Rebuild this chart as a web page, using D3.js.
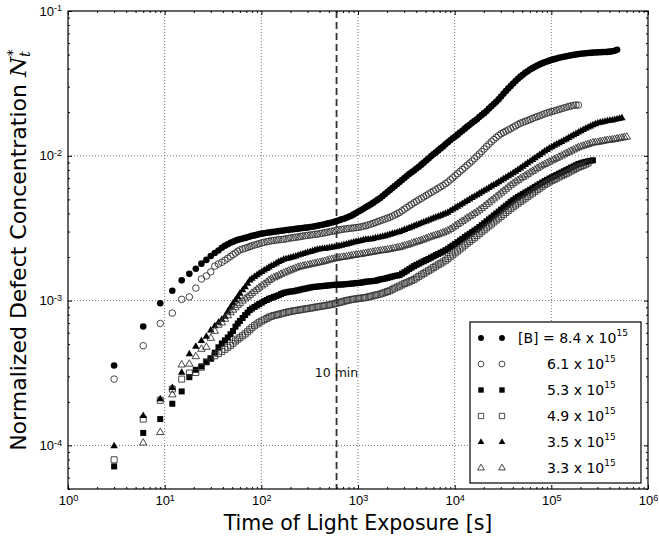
<!DOCTYPE html>
<html>
<head>
<meta charset="utf-8">
<script src="https://cdn.jsdelivr.net/npm/d3@7"></script>
<style>
  body { margin: 0; background: #fff; }
  svg { display: block; font-family: "DejaVu Sans", sans-serif; }
</style>
</head>
<body>
<svg id="chart" width="659" height="541"></svg>
<script>
// Exposure times [s] shared by all samples (a series may stop earlier)
const sampleTimes = [
  3, 6, 9, 12, 15, 18, 21, 24, 27, 30, 33, 36, 39, 42, 45, 48, 51, 54, 57, 60, 64,
  68, 72, 76, 80, 85, 90, 95, 101, 107, 114,
  120, 127, 135, 143, 151, 160, 170, 180, 191, 202,
  214, 227, 240, 254, 269, 285, 302, 320, 339, 359,
  380, 403, 427, 452, 479, 507, 537, 569, 603, 638,
  676, 716, 759, 804, 851, 902, 955, 1012, 1072, 1135,
  1202, 1274, 1349, 1429, 1514, 1603, 1698, 1799, 1905, 2018,
  2138, 2265, 2399, 2541, 2692, 2851, 3020, 3199, 3388, 3589,
  3802, 4027, 4266, 4519, 4786, 5070, 5370, 5689, 6026, 6383,
  6761, 7161, 7586, 8035, 8511, 9016, 9550, 10120, 10720, 11350,
  12020, 12740, 13490, 14290, 15140, 16030, 16980, 17990, 19050, 20180,
  21380, 22650, 23990, 25410, 26920, 28510, 30200, 31990, 33880, 35890,
  38020, 40270, 42660, 45190, 47860, 50700, 53700, 56890, 60260, 63830,
  67610, 71610, 75860, 80350, 85110, 90160, 95500, 101200, 107200, 113500,
  120200, 127400, 134900, 142900, 151400, 160300, 169800, 179900, 190500, 201800,
  213800, 226500, 239900, 254100, 269200, 285100, 302000, 319900, 338800, 358900,
  380200, 402700, 426600, 451900, 478600, 507000, 537000, 568900, 602600
];

// Normalized defect concentration N_t* for each boron concentration
const boron84 = [
  3.56e-4, 6.62e-4, 9.6e-4, 1.17e-3, 1.38e-3, 1.53e-3, 1.66e-3, 1.80e-3, 1.91e-3, 2.03e-3,
  2.13e-3, 2.22e-3, 2.32e-3, 2.39e-3, 2.45e-3, 2.51e-3, 2.55e-3, 2.59e-3, 2.63e-3, 2.65e-3, 2.68e-3,
  2.71e-3, 2.74e-3, 2.77e-3, 2.80e-3, 2.82e-3, 2.85e-3, 2.88e-3, 2.90e-3, 2.92e-3, 2.94e-3,
  2.95e-3, 2.97e-3, 2.99e-3, 3.00e-3, 3.02e-3, 3.04e-3, 3.05e-3, 3.07e-3, 3.08e-3, 3.10e-3,
  3.11e-3, 3.13e-3, 3.14e-3, 3.16e-3, 3.17e-3, 3.19e-3, 3.20e-3, 3.22e-3, 3.24e-3, 3.26e-3,
  3.29e-3, 3.31e-3, 3.34e-3, 3.37e-3, 3.40e-3, 3.43e-3, 3.46e-3, 3.50e-3, 3.55e-3, 3.59e-3,
  3.64e-3, 3.68e-3, 3.73e-3, 3.79e-3, 3.85e-3, 3.94e-3, 4.03e-3, 4.12e-3, 4.21e-3, 4.31e-3,
  4.41e-3, 4.51e-3, 4.61e-3, 4.73e-3, 4.85e-3, 4.98e-3, 5.11e-3, 5.28e-3, 5.45e-3, 5.63e-3,
  5.81e-3, 5.99e-3, 6.18e-3, 6.38e-3, 6.59e-3, 6.80e-3, 7.02e-3, 7.25e-3, 7.48e-3, 7.69e-3,
  7.91e-3, 8.16e-3, 8.41e-3, 8.69e-3, 8.97e-3, 9.28e-3, 9.59e-3, 9.91e-3, 1.023e-2, 1.056e-2,
  1.09e-2, 1.125e-2, 1.16e-2, 1.20e-2, 1.24e-2, 1.28e-2, 1.32e-2, 1.36e-2, 1.40e-2, 1.45e-2,
  1.49e-2, 1.54e-2, 1.59e-2, 1.64e-2, 1.69e-2, 1.74e-2, 1.79e-2, 1.85e-2, 1.91e-2, 1.97e-2,
  2.04e-2, 2.12e-2, 2.20e-2, 2.28e-2, 2.36e-2, 2.46e-2, 2.57e-2, 2.68e-2, 2.80e-2, 2.92e-2,
  3.04e-2, 3.16e-2, 3.28e-2, 3.40e-2, 3.52e-2, 3.63e-2, 3.74e-2, 3.84e-2, 3.94e-2, 4.03e-2,
  4.12e-2, 4.20e-2, 4.28e-2, 4.35e-2, 4.42e-2, 4.48e-2, 4.54e-2, 4.60e-2, 4.65e-2, 4.70e-2,
  4.75e-2, 4.79e-2, 4.83e-2, 4.87e-2, 4.91e-2, 4.95e-2, 4.98e-2, 5.01e-2, 5.04e-2, 5.07e-2,
  5.09e-2, 5.11e-2, 5.13e-2, 5.14e-2, 5.16e-2, 5.17e-2, 5.18e-2, 5.19e-2, 5.20e-2, 5.21e-2,
  5.22e-2, 5.24e-2, 5.27e-2, 5.32e-2, 5.40e-2
];
const boron61 = [
  2.87e-4, 4.88e-4, 6.95e-4, 8.2e-4, 1.02e-3, 1.06e-3, 1.22e-3, 1.41e-3, 1.48e-3, 1.58e-3,
  1.73e-3, 1.79e-3, 1.84e-3, 1.90e-3, 1.96e-3, 2.02e-3, 2.08e-3, 2.13e-3, 2.19e-3, 2.24e-3, 2.27e-3,
  2.30e-3, 2.33e-3, 2.36e-3, 2.39e-3, 2.42e-3, 2.45e-3, 2.47e-3, 2.50e-3, 2.53e-3, 2.55e-3,
  2.57e-3, 2.59e-3, 2.60e-3, 2.62e-3, 2.63e-3, 2.64e-3, 2.65e-3, 2.67e-3, 2.69e-3, 2.71e-3,
  2.72e-3, 2.74e-3, 2.75e-3, 2.77e-3, 2.79e-3, 2.81e-3, 2.82e-3, 2.84e-3, 2.85e-3, 2.87e-3,
  2.88e-3, 2.90e-3, 2.92e-3, 2.94e-3, 2.96e-3, 2.99e-3, 3.01e-3, 3.03e-3, 3.05e-3, 3.08e-3,
  3.10e-3, 3.12e-3, 3.13e-3, 3.15e-3, 3.16e-3, 3.18e-3, 3.19e-3, 3.21e-3, 3.23e-3, 3.26e-3,
  3.29e-3, 3.33e-3, 3.37e-3, 3.41e-3, 3.46e-3, 3.51e-3, 3.56e-3, 3.61e-3, 3.66e-3, 3.71e-3,
  3.76e-3, 3.83e-3, 3.91e-3, 3.98e-3, 4.06e-3, 4.17e-3, 4.28e-3, 4.39e-3, 4.51e-3, 4.62e-3,
  4.74e-3, 4.85e-3, 4.97e-3, 5.08e-3, 5.20e-3, 5.32e-3, 5.45e-3, 5.57e-3, 5.70e-3, 5.83e-3,
  5.97e-3, 6.11e-3, 6.25e-3, 6.42e-3, 6.59e-3, 6.82e-3, 7.05e-3, 7.29e-3, 7.53e-3, 7.79e-3,
  8.05e-3, 8.33e-3, 8.61e-3, 8.90e-3, 9.20e-3, 9.56e-3, 9.93e-3, 1.03e-2, 1.07e-2, 1.115e-2,
  1.16e-2, 1.205e-2, 1.25e-2, 1.295e-2, 1.34e-2, 1.38e-2, 1.42e-2, 1.45e-2, 1.48e-2, 1.51e-2,
  1.54e-2, 1.575e-2, 1.61e-2, 1.645e-2, 1.68e-2, 1.705e-2, 1.73e-2, 1.755e-2, 1.78e-2, 1.81e-2,
  1.84e-2, 1.865e-2, 1.89e-2, 1.92e-2, 1.95e-2, 1.975e-2, 2.00e-2, 2.02e-2, 2.04e-2, 2.065e-2,
  2.09e-2, 2.115e-2, 2.14e-2, 2.165e-2, 2.19e-2, 2.21e-2, 2.23e-2, 2.24e-2, 2.24e-2
];
const boron53 = [
  7.16e-5, 1.22e-4, 1.52e-4, 1.94e-4, 2.36e-4, 2.96e-4, 3.33e-4, 3.51e-4, 3.76e-4, 3.98e-4,
  4.37e-4, 4.76e-4, 5.06e-4, 5.31e-4, 5.56e-4, 5.86e-4, 6.17e-4, 6.61e-4, 6.95e-4, 7.24e-4, 7.58e-4,
  7.94e-4, 8.27e-4, 8.61e-4, 8.82e-4, 9.04e-4, 9.25e-4, 9.46e-4, 9.68e-4, 9.91e-4, 1.01e-3,
  1.03e-3, 1.045e-3, 1.06e-3, 1.075e-3, 1.09e-3, 1.11e-3, 1.13e-3, 1.14e-3, 1.15e-3, 1.155e-3,
  1.16e-3, 1.17e-3, 1.18e-3, 1.19e-3, 1.20e-3, 1.21e-3, 1.22e-3, 1.23e-3, 1.24e-3, 1.245e-3,
  1.25e-3, 1.255e-3, 1.26e-3, 1.265e-3, 1.27e-3, 1.275e-3, 1.28e-3, 1.285e-3, 1.29e-3, 1.29e-3,
  1.29e-3, 1.295e-3, 1.30e-3, 1.305e-3, 1.31e-3, 1.315e-3, 1.32e-3, 1.325e-3, 1.33e-3, 1.34e-3,
  1.35e-3, 1.355e-3, 1.36e-3, 1.365e-3, 1.37e-3, 1.385e-3, 1.40e-3, 1.41e-3, 1.42e-3, 1.435e-3,
  1.45e-3, 1.465e-3, 1.48e-3, 1.49e-3, 1.50e-3, 1.535e-3, 1.57e-3, 1.61e-3, 1.65e-3, 1.69e-3,
  1.73e-3, 1.765e-3, 1.80e-3, 1.835e-3, 1.87e-3, 1.905e-3, 1.94e-3, 1.98e-3, 2.02e-3, 2.06e-3,
  2.10e-3, 2.14e-3, 2.18e-3, 2.23e-3, 2.28e-3, 2.34e-3, 2.40e-3, 2.465e-3, 2.53e-3, 2.60e-3,
  2.67e-3, 2.745e-3, 2.82e-3, 2.895e-3, 2.97e-3, 3.05e-3, 3.13e-3, 3.22e-3, 3.32e-3, 3.42e-3,
  3.53e-3, 3.64e-3, 3.75e-3, 3.87e-3, 3.99e-3, 4.12e-3, 4.25e-3, 4.38e-3, 4.52e-3, 4.66e-3,
  4.81e-3, 4.94e-3, 5.08e-3, 5.20e-3, 5.32e-3, 5.44e-3, 5.57e-3, 5.69e-3, 5.82e-3, 5.96e-3,
  6.10e-3, 6.24e-3, 6.38e-3, 6.53e-3, 6.68e-3, 6.82e-3, 6.97e-3, 7.10e-3, 7.24e-3, 7.38e-3,
  7.53e-3, 7.67e-3, 7.82e-3, 7.97e-3, 8.13e-3, 8.29e-3, 8.45e-3, 8.61e-3, 8.77e-3, 8.88e-3,
  8.99e-3, 9.08e-3, 9.16e-3, 9.24e-3, 9.31e-3
];
const boron49 = [
  7.96e-5, 1.52e-4, 2.05e-4, 2.45e-4, 2.87e-4, 3.16e-4, 3.19e-4, 3.47e-4, 3.78e-4, 3.98e-4,
  4.16e-4, 4.31e-4, 4.46e-4, 4.61e-4, 4.76e-4, 4.91e-4, 5.08e-4, 5.26e-4, 5.42e-4, 5.55e-4, 5.72e-4,
  5.89e-4, 6.09e-4, 6.30e-4, 6.50e-4, 6.71e-4, 6.89e-4, 7.08e-4, 7.23e-4, 7.38e-4, 7.53e-4,
  7.69e-4, 7.79e-4, 7.89e-4, 7.96e-4, 8.04e-4, 8.12e-4, 8.20e-4, 8.28e-4, 8.36e-4, 8.42e-4,
  8.49e-4, 8.54e-4, 8.59e-4, 8.65e-4, 8.71e-4, 8.76e-4, 8.81e-4, 8.87e-4, 8.93e-4, 8.99e-4,
  9.06e-4, 9.11e-4, 9.17e-4, 9.23e-4, 9.29e-4, 9.35e-4, 9.42e-4, 9.51e-4, 9.61e-4, 9.70e-4,
  9.79e-4, 9.90e-4, 1.00e-3, 1.008e-3, 1.016e-3, 1.023e-3, 1.03e-3, 1.035e-3, 1.04e-3, 1.045e-3,
  1.05e-3, 1.06e-3, 1.07e-3, 1.08e-3, 1.09e-3, 1.10e-3, 1.11e-3, 1.125e-3, 1.14e-3, 1.155e-3,
  1.17e-3, 1.195e-3, 1.22e-3, 1.24e-3, 1.26e-3, 1.285e-3, 1.31e-3, 1.33e-3, 1.35e-3, 1.375e-3,
  1.40e-3, 1.435e-3, 1.47e-3, 1.505e-3, 1.54e-3, 1.575e-3, 1.61e-3, 1.65e-3, 1.69e-3, 1.73e-3,
  1.77e-3, 1.81e-3, 1.85e-3, 1.90e-3, 1.95e-3, 2.01e-3, 2.07e-3, 2.135e-3, 2.20e-3, 2.27e-3,
  2.34e-3, 2.415e-3, 2.49e-3, 2.565e-3, 2.64e-3, 2.72e-3, 2.81e-3, 2.90e-3, 2.99e-3, 3.08e-3,
  3.18e-3, 3.28e-3, 3.38e-3, 3.49e-3, 3.60e-3, 3.71e-3, 3.82e-3, 3.94e-3, 4.06e-3, 4.19e-3,
  4.32e-3, 4.44e-3, 4.57e-3, 4.70e-3, 4.83e-3, 4.96e-3, 5.09e-3, 5.23e-3, 5.37e-3, 5.52e-3,
  5.68e-3, 5.83e-3, 5.98e-3, 6.15e-3, 6.32e-3, 6.46e-3, 6.61e-3, 6.74e-3, 6.87e-3, 7.00e-3,
  7.14e-3, 7.27e-3, 7.41e-3, 7.56e-3, 7.71e-3, 7.86e-3, 8.02e-3, 8.18e-3, 8.34e-3, 8.46e-3,
  8.59e-3, 8.75e-3, 8.91e-3
];
const boron35 = [
  9.9e-5, 1.60e-4, 2.09e-4, 2.50e-4, 3.18e-4, 4.27e-4, 4.82e-4, 5.28e-4, 5.65e-4, 6.24e-4,
  6.68e-4, 7.05e-4, 7.40e-4, 7.76e-4, 8.41e-4, 8.99e-4, 9.57e-4, 1.01e-3, 1.06e-3, 1.12e-3, 1.18e-3,
  1.24e-3, 1.31e-3, 1.38e-3, 1.42e-3, 1.46e-3, 1.50e-3, 1.54e-3, 1.58e-3, 1.62e-3, 1.66e-3,
  1.70e-3, 1.735e-3, 1.77e-3, 1.81e-3, 1.85e-3, 1.885e-3, 1.92e-3, 1.94e-3, 1.96e-3, 1.98e-3,
  2.00e-3, 2.025e-3, 2.05e-3, 2.075e-3, 2.10e-3, 2.125e-3, 2.15e-3, 2.175e-3, 2.20e-3, 2.225e-3,
  2.25e-3, 2.265e-3, 2.28e-3, 2.29e-3, 2.30e-3, 2.315e-3, 2.33e-3, 2.345e-3, 2.36e-3, 2.38e-3,
  2.40e-3, 2.425e-3, 2.45e-3, 2.475e-3, 2.50e-3, 2.525e-3, 2.55e-3, 2.57e-3, 2.59e-3, 2.615e-3,
  2.64e-3, 2.645e-3, 2.65e-3, 2.675e-3, 2.70e-3, 2.72e-3, 2.74e-3, 2.765e-3, 2.79e-3, 2.825e-3,
  2.86e-3, 2.89e-3, 2.92e-3, 2.955e-3, 2.99e-3, 3.035e-3, 3.08e-3, 3.125e-3, 3.17e-3, 3.22e-3,
  3.27e-3, 3.32e-3, 3.37e-3, 3.425e-3, 3.48e-3, 3.53e-3, 3.58e-3, 3.64e-3, 3.70e-3, 3.755e-3,
  3.81e-3, 3.87e-3, 3.93e-3, 3.99e-3, 4.06e-3, 4.16e-3, 4.26e-3, 4.36e-3, 4.46e-3, 4.56e-3,
  4.67e-3, 4.78e-3, 4.89e-3, 5.00e-3, 5.12e-3, 5.24e-3, 5.36e-3, 5.48e-3, 5.61e-3, 5.74e-3,
  5.87e-3, 6.01e-3, 6.15e-3, 6.29e-3, 6.44e-3, 6.59e-3, 6.75e-3, 6.91e-3, 7.08e-3, 7.24e-3,
  7.41e-3, 7.59e-3, 7.78e-3, 7.99e-3, 8.20e-3, 8.43e-3, 8.67e-3, 8.90e-3, 9.14e-3, 9.39e-3,
  9.64e-3, 9.90e-3, 1.016e-2, 1.045e-2, 1.074e-2, 1.10e-2, 1.125e-2, 1.15e-2, 1.175e-2, 1.20e-2,
  1.225e-2, 1.25e-2, 1.277e-2, 1.30e-2, 1.33e-2, 1.36e-2, 1.39e-2, 1.42e-2, 1.45e-2, 1.48e-2,
  1.51e-2, 1.54e-2, 1.57e-2, 1.60e-2, 1.63e-2, 1.655e-2, 1.68e-2, 1.695e-2, 1.71e-2, 1.725e-2,
  1.74e-2, 1.75e-2, 1.76e-2, 1.775e-2, 1.79e-2, 1.805e-2, 1.82e-2
];
const boron33 = [
  null, 1.04e-4, 1.23e-4, 2.24e-4, 3.6e-4, 3.65e-4, 4.11e-4, 4.62e-4, 4.77e-4, 5.5e-4,
  6.15e-4, 6.78e-4, 7.02e-4, 7.45e-4, 7.87e-4, 8.26e-4, 8.61e-4, 8.95e-4, 9.29e-4, 9.59e-4, 9.95e-4,
  1.03e-3, 1.06e-3, 1.09e-3, 1.125e-3, 1.16e-3, 1.195e-3, 1.23e-3, 1.265e-3, 1.30e-3, 1.34e-3,
  1.38e-3, 1.41e-3, 1.44e-3, 1.465e-3, 1.49e-3, 1.52e-3, 1.55e-3, 1.575e-3, 1.60e-3, 1.625e-3,
  1.65e-3, 1.675e-3, 1.70e-3, 1.715e-3, 1.73e-3, 1.745e-3, 1.76e-3, 1.775e-3, 1.79e-3, 1.805e-3,
  1.82e-3, 1.835e-3, 1.85e-3, 1.87e-3, 1.89e-3, 1.91e-3, 1.93e-3, 1.945e-3, 1.96e-3, 1.975e-3,
  1.99e-3, 2.00e-3, 2.01e-3, 2.025e-3, 2.04e-3, 2.055e-3, 2.07e-3, 2.08e-3, 2.09e-3, 2.105e-3,
  2.12e-3, 2.135e-3, 2.15e-3, 2.165e-3, 2.18e-3, 2.195e-3, 2.21e-3, 2.22e-3, 2.23e-3, 2.245e-3,
  2.26e-3, 2.28e-3, 2.30e-3, 2.315e-3, 2.33e-3, 2.36e-3, 2.39e-3, 2.415e-3, 2.44e-3, 2.475e-3,
  2.51e-3, 2.54e-3, 2.57e-3, 2.605e-3, 2.64e-3, 2.68e-3, 2.72e-3, 2.755e-3, 2.79e-3, 2.825e-3,
  2.86e-3, 2.90e-3, 2.94e-3, 2.99e-3, 3.04e-3, 3.11e-3, 3.19e-3, 3.27e-3, 3.36e-3, 3.44e-3,
  3.53e-3, 3.62e-3, 3.72e-3, 3.81e-3, 3.90e-3, 4.00e-3, 4.10e-3, 4.22e-3, 4.34e-3, 4.47e-3,
  4.61e-3, 4.75e-3, 4.90e-3, 5.05e-3, 5.21e-3, 5.37e-3, 5.54e-3, 5.71e-3, 5.89e-3, 6.08e-3,
  6.27e-3, 6.44e-3, 6.62e-3, 6.78e-3, 6.95e-3, 7.11e-3, 7.28e-3, 7.46e-3, 7.64e-3, 7.82e-3,
  8.01e-3, 8.20e-3, 8.39e-3, 8.56e-3, 8.73e-3, 8.90e-3, 9.08e-3, 9.26e-3, 9.44e-3, 9.62e-3,
  9.80e-3, 9.99e-3, 1.019e-2, 1.04e-2, 1.06e-2, 1.08e-2, 1.10e-2, 1.12e-2, 1.14e-2, 1.155e-2,
  1.17e-2, 1.185e-2, 1.20e-2, 1.215e-2, 1.23e-2, 1.235e-2, 1.24e-2, 1.25e-2, 1.26e-2, 1.27e-2,
  1.28e-2, 1.285e-2, 1.29e-2, 1.30e-2, 1.31e-2, 1.32e-2, 1.33e-2, 1.34e-2, 1.35e-2
];

// Legend text: mantissa of each boron concentration (x 10^15)
const legendMantissas = ["8.4", "6.1", "5.3", "4.9", "3.5", "3.3"];
const legendPrefix = "[B] = ";
const xTickExponents = [0, 1, 2, 3, 4, 5, 6];
const yTickExponents = [-4, -3, -2, -1];
const markTime = 600;          // 10 minutes of light exposure
const markLabel = "10 min";
const xTitle = "Time of Light Exposure [s]";
const yTitle = "Normalized Defect Concentration ";

const series = [
  { values: boron84, shape: d3.symbolCircle,   filled: true,  size: 34 },
  { values: boron61, shape: d3.symbolCircle,   filled: false, size: 34 },
  { values: boron53, shape: d3.symbolSquare,   filled: true,  size: 36 },
  { values: boron49, shape: d3.symbolSquare,   filled: false, size: 36 },
  { values: boron35, shape: d3.symbolTriangle, filled: true,  size: 24 },
  { values: boron33, shape: d3.symbolTriangle, filled: false, size: 24 }
];

const svg = d3.select("#chart");
const plot = { left: 68, top: 11, right: 648, bottom: 489 };

const x = d3.scaleLog().domain([1, 1e6]).range([plot.left, plot.right]);
const y = d3.scaleLog().domain([5e-5, 1e-1]).range([plot.bottom, plot.top]);

const xMajor = xTickExponents.map(e => Math.pow(10, e));
const yMajor = yTickExponents.map(e => Math.pow(10, e));
const xMinor = [];
for (let e = 0; e < 6; e++) for (let m = 2; m <= 9; m++) xMinor.push(m * Math.pow(10, e));
const yMinor = [];
for (let e = -5; e < -1; e++) for (let m = 2; m <= 9; m++) {
  const v = m * Math.pow(10, e);
  if (v >= 5e-5 && v < 1e-1) yMinor.push(v);
}

// dotted grid at the major decades
const grid = svg.append("g").attr("stroke", "#777").attr("stroke-width", 1)
  .attr("stroke-dasharray", "1,2");
grid.selectAll(".gx").data(xMajor.slice(1, -1)).join("line")
  .attr("x1", d => x(d)).attr("x2", d => x(d))
  .attr("y1", plot.top).attr("y2", plot.bottom);
grid.selectAll(".gy").data(yMajor.slice(0, -1)).join("line")
  .attr("x1", plot.left).attr("x2", plot.right)
  .attr("y1", d => y(d)).attr("y2", d => y(d));

// 10 minute marker
svg.append("line")
  .attr("x1", x(markTime)).attr("x2", x(markTime))
  .attr("y1", plot.top).attr("y2", plot.bottom)
  .attr("stroke", "#333").attr("stroke-width", 1.8).attr("stroke-dasharray", "7,4");
svg.append("text")
  .attr("x", x(markTime)).attr("y", 377)
  .attr("text-anchor", "middle").attr("font-size", 12.5).attr("fill", "#111")
  .text(markLabel);

// data markers
const sym = d3.symbol();
series.forEach(s => {
  const pts = s.values.map((v, i) => [sampleTimes[i], v])
    .filter(p => p[1] != null && p[0] != null);
  svg.append("g").selectAll("path").data(pts).join("path")
    .attr("transform", d => `translate(${x(d[0])},${y(d[1])})`)
    .attr("d", sym.type(s.shape).size(s.size)())
    .attr("fill", s.filled ? "#000" : "none")
    .attr("stroke", s.filled ? "none" : "#333")
    .attr("stroke-width", 0.9);
});

// axes with inward ticks on all four sides
function supLabel(sel, exps, fs) {
  sel.selectAll(".tick text").each(function (d, i) {
    const t = d3.select(this).text("").attr("font-size", fs).attr("fill", "#000");
    t.append("tspan").text("10");
    t.append("tspan").attr("dy", "-0.5em").attr("font-size", fs * 0.7)
      .text(String(exps[i]));
  });
}
const axes = svg.append("g").attr("font-family", "DejaVu Sans, sans-serif");
const gB = axes.append("g").attr("transform", `translate(0,${plot.bottom})`)
  .call(d3.axisBottom(x).tickValues(xMajor).tickSizeInner(-4).tickSizeOuter(0).tickPadding(7));
supLabel(gB, xTickExponents, 13);
axes.append("g").attr("transform", `translate(0,${plot.bottom})`)
  .call(d3.axisBottom(x).tickValues(xMinor).tickSizeInner(-2).tickSizeOuter(0).tickFormat(""));
axes.append("g").attr("transform", `translate(0,${plot.top})`)
  .call(d3.axisTop(x).tickValues(xMajor).tickSizeInner(-4).tickSizeOuter(0).tickFormat(""));
axes.append("g").attr("transform", `translate(0,${plot.top})`)
  .call(d3.axisTop(x).tickValues(xMinor).tickSizeInner(-2).tickSizeOuter(0).tickFormat(""));
const gL = axes.append("g").attr("transform", `translate(${plot.left},0)`)
  .call(d3.axisLeft(y).tickValues(yMajor).tickSizeInner(-4).tickSizeOuter(0).tickPadding(6));
supLabel(gL, yTickExponents, 13);
axes.append("g").attr("transform", `translate(${plot.left},0)`)
  .call(d3.axisLeft(y).tickValues(yMinor).tickSizeInner(-2).tickSizeOuter(0).tickFormat(""));
axes.append("g").attr("transform", `translate(${plot.right},0)`)
  .call(d3.axisRight(y).tickValues(yMajor).tickSizeInner(-4).tickSizeOuter(0).tickFormat(""));
axes.append("g").attr("transform", `translate(${plot.right},0)`)
  .call(d3.axisRight(y).tickValues(yMinor).tickSizeInner(-2).tickSizeOuter(0).tickFormat(""));
axes.selectAll(".domain").remove();
axes.selectAll(".tick line").attr("stroke", "#000");

// frame
svg.append("rect")
  .attr("x", plot.left).attr("y", plot.top)
  .attr("width", plot.right - plot.left).attr("height", plot.bottom - plot.top)
  .attr("fill", "none").attr("stroke", "#000").attr("stroke-width", 1.2);

// axis titles
svg.append("text")
  .attr("x", (plot.left + plot.right) / 2).attr("y", 530)
  .attr("text-anchor", "middle").attr("font-size", 20.5).attr("fill", "#000")
  .text(xTitle);
const yt = svg.append("text")
  .attr("transform", `translate(26,${(plot.top + plot.bottom) / 2}) rotate(-90)`)
  .attr("text-anchor", "middle").attr("font-size", 22).attr("fill", "#000");
yt.append("tspan").text(yTitle);
yt.append("tspan").attr("font-family", "DejaVu Serif, serif").attr("font-style", "italic")
  .attr("font-size", 23).text("N");
yt.append("tspan").attr("font-family", "DejaVu Serif, serif").attr("font-style", "italic")
  .attr("font-size", 14).attr("dy", "0.3em").text("t");
yt.append("tspan").attr("font-size", 14).attr("dx", "-0.35em").attr("dy", "-0.95em").text("*");

// legend
const lg = svg.append("g");
lg.append("rect").attr("x", 470).attr("y", 322).attr("width", 171).attr("height", 161)
  .attr("fill", "#fff").attr("stroke", "#000").attr("stroke-width", 1.2);
const rowY = i => 338 + i * 26;
series.forEach((s, i) => {
  [481, 502].forEach(mx => {
    lg.append("path")
      .attr("transform", `translate(${mx},${rowY(i)})`)
      .attr("d", sym.type(s.shape).size(s.size * 0.8)())
      .attr("fill", s.filled ? "#000" : "none")
      .attr("stroke", s.filled ? "none" : "#333").attr("stroke-width", 0.9);
  });
  const t = lg.append("text").attr("x", i === 0 ? 518 : 547).attr("y", rowY(i) + 5)
    .attr("font-size", 14).attr("fill", "#000");
  t.append("tspan").text((i === 0 ? legendPrefix : "") + legendMantissas[i] + " x 10");
  t.append("tspan").attr("font-size", 9).attr("dy", "-0.75em").text("15");
});
</script>
</body>
</html>
